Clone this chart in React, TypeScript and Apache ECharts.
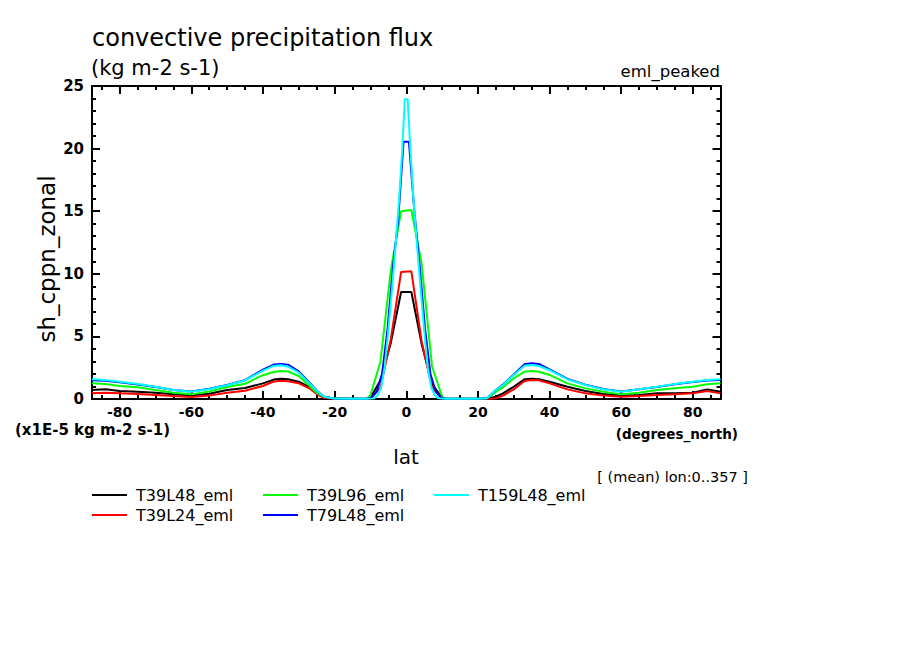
import React, { useEffect, useRef } from "react";
import * as echarts from "echarts";

// ---- latitude grids (degrees north) ----
const latSouth = [-87.72, -84, -80, -75, -70, -65, -60, -55, -50, -45, -40, -37, -35, -33, -30, -27, -25, -23, -20, -15, -11];
const latNorth = [11, 15, 20, 22.5, 25, 27, 30, 33, 35, 37, 40, 45, 50, 55, 60, 65, 70, 75, 80, 84, 87.72];
const latEqT39 = [-10, -7.2, -4.3, -1.43, 1.43, 4.3, 7.2, 10];
const latEqT79 = [-9.75, -8.25, -6.75, -5.25, -3.75, -2.25, -0.75, 0.75, 2.25, 3.75, 5.25, 6.75, 8.25, 9.75];
const latEqT159 = [-9, -8, -7, -6, -5, -4, -3, -2, -1.1, -0.4, 0.4, 1.1, 2, 3, 4, 5, 6, 7, 8, 9];

// ---- series values (x1E-5 kg m-2 s-1) ----
const t39l48 = [
  0.72, 0.77, 0.64, 0.58, 0.5, 0.37, 0.27, 0.42, 0.72, 0.88, 1.25, 1.55, 1.62, 1.58, 1.38, 0.95, 0.5, 0.15, 0.02, 0.01, 0.01,
  0.1, 1.5, 4.5, 8.55, 8.55, 4.4, 1.2, 0.1,
  0.01, 0.01, 0.01, 0.02, 0.18, 0.45, 0.98, 1.57, 1.62, 1.57, 1.38, 0.98, 0.64, 0.4, 0.27, 0.32, 0.45, 0.45, 0.5, 0.77, 0.58,
];
const t39l24 = [
  0.45, 0.5, 0.45, 0.4, 0.32, 0.24, 0.16, 0.27, 0.5, 0.66, 1.04, 1.4, 1.46, 1.42, 1.25, 0.85, 0.4, 0.1, 0.01, 0, 0,
  0.05, 0.9, 4.8, 10.15, 10.2, 4.6, 0.9, 0.05,
  0, 0, 0, 0.01, 0.05, 0.27, 0.77, 1.44, 1.52, 1.5, 1.25, 0.77, 0.45, 0.27, 0.18, 0.24, 0.32, 0.37, 0.45, 0.64, 0.45,
];
const t39l96 = [
  1.25, 1.2, 1.04, 0.93, 0.72, 0.5, 0.37, 0.6, 0.95, 1.22, 1.9, 2.15, 2.24, 2.2, 1.84, 1.04, 0.5, 0.2, 0.04, 0.02, 0.02,
  0.3, 3.0, 10.3, 15.0, 15.1, 10.8, 2.6, 0.2,
  0.02, 0.02, 0.02, 0.05, 0.56, 0.93, 1.65, 2.18, 2.24, 2.18, 1.92, 1.25, 0.85, 0.58, 0.37, 0.5, 0.72, 0.85, 0.98, 1.17, 1.25,
];
const t79l48 = [
  1.5, 1.45, 1.34, 1.16, 0.95, 0.72, 0.6, 0.82, 1.12, 1.5, 2.35, 2.75, 2.8, 2.74, 2.2, 1.3, 0.68, 0.18, 0.03, 0.02, 0.02,
  0.1, 0.6, 2.0, 5.5, 10.4, 14.3, 20.55, 20.55, 15.0, 10.6, 5.6, 2.0, 0.6, 0.1,
  0.02, 0.02, 0.02, 0.05, 0.72, 1.15, 1.95, 2.77, 2.85, 2.8, 2.37, 1.6, 1.15, 0.8, 0.6, 0.77, 0.96, 1.17, 1.35, 1.48, 1.52,
];
const t159l48 = [
  1.57, 1.52, 1.38, 1.2, 0.98, 0.72, 0.58, 0.8, 1.1, 1.48, 2.26, 2.64, 2.69, 2.58, 2.1, 1.25, 0.66, 0.18, 0.03, 0.02, 0.02,
  0.05, 0.3, 0.9, 2.6, 5.5, 8.7, 12.2, 15.9, 20.0, 23.95, 23.95, 20.2, 16.0, 12.3, 8.8, 5.5, 2.5, 0.9, 0.3, 0.05,
  0.02, 0.02, 0.02, 0.05, 0.72, 1.12, 1.92, 2.66, 2.72, 2.64, 2.3, 1.57, 1.12, 0.77, 0.58, 0.77, 0.98, 1.2, 1.38, 1.52, 1.57,
];

const seriesNames = ["T39L48_eml", "T39L24_eml", "T39L96_eml", "T79L48_eml", "T159L48_eml"];
const seriesColors = ["#000000", "#ff0000", "#00ff00", "#0000ff", "#00ffff"];

// ---- axis ticks ----
const xMin = -87.72;
const xMax = 87.72;
const xMajorTicks = [-80, -60, -40, -20, 0, 20, 40, 60, 80];
const xMinorTicks = [-85, -75, -70, -65, -55, -50, -45, -35, -30, -25, -15, -10, -5, 5, 10, 15, 25, 30, 35, 45, 50, 55, 65, 70, 75, 85];
const yMin = 0;
const yMax = 25;
const yInterval = 5;

const FONT = "DejaVu Sans";

function zip(lats: number[], vals: number[]) {
  return lats.map((la, i) => [la, vals[i]]);
}

export default function App() {
  const ref = useRef<HTMLDivElement>(null);

  useEffect(() => {
    if (!ref.current) return;
    const chart = echarts.init(ref.current, undefined, { renderer: "svg" });

    const latT39 = [...latSouth, ...latEqT39, ...latNorth];
    const latT79 = [...latSouth, ...latEqT79, ...latNorth];
    const latT159 = [...latSouth, ...latEqT159, ...latNorth];
    const dataSets = [
      zip(latT39, t39l48),
      zip(latT39, t39l24),
      zip(latT39, t39l96),
      zip(latT79, t79l48),
      zip(latT159, t159l48),
    ];

    const axisLine = { show: true, onZero: false, lineStyle: { color: "#000", width: 2 } };
    const noLine = { show: false, onZero: false };
    const majorTick = (vals: number[]) => ({
      show: true,
      inside: true,
      length: 8,
      customValues: vals,
      lineStyle: { color: "#000", width: 2 },
    });
    const minorTickAxis = (vals: number[]) => ({
      show: true,
      inside: true,
      length: 4,
      customValues: vals,
      lineStyle: { color: "#000", width: 2 },
    });

    const xBase = { type: "value", min: xMin, max: xMax, gridIndex: 0, splitLine: { show: false } };
    const yBase = {
      type: "value",
      min: yMin,
      max: yMax,
      interval: yInterval,
      gridIndex: 0,
      splitLine: { show: false },
      minorSplitLine: { show: false },
      minorTick: { show: true, splitNumber: 5, length: 4, lineStyle: { color: "#000", width: 2 } },
      axisTick: { show: true, inside: true, length: 8, lineStyle: { color: "#000", width: 2 } },
    };

    const legendCommon = {
      orient: "vertical",
      padding: 0,
      icon: "rect",
      itemWidth: 35,
      itemHeight: 2,
      itemGap: 4,
      selectedMode: false,
      textStyle: { fontFamily: FONT, fontSize: 16, color: "#000", lineHeight: 16, padding: [0, 0, 0, 4] },
    };

    const text = (t: string, x: number, y: number, size: number, opts: any = {}) => ({
      type: "text",
      x,
      y,
      rotation: opts.rotation || 0,
      style: {
        text: t,
        fontFamily: FONT,
        fontSize: size,
        fontWeight: opts.bold ? "bold" : "normal",
        fill: "#000",
        align: opts.align || "left",
        verticalAlign: "middle",
      },
    });

    chart.setOption({
      animation: false,
      backgroundColor: "#ffffff",
      grid: { left: 92, top: 86, width: 628.5, height: 313, containLabel: false },
      xAxis: [
        {
          ...xBase,
          position: "bottom",
          axisLine,
          axisTick: majorTick(xMajorTicks),
          axisLabel: {
            show: true,
            customValues: xMajorTicks,
            margin: 6,
            fontFamily: FONT,
            fontSize: 14,
            fontWeight: "bold",
            color: "#000",
          },
        },
        {
          ...xBase,
          position: "bottom",
          axisLine: noLine,
          axisTick: minorTickAxis(xMinorTicks),
          axisLabel: { show: false },
        },
        {
          ...xBase,
          position: "top",
          axisLine,
          axisTick: majorTick(xMajorTicks),
          axisLabel: { show: false },
        },
        {
          ...xBase,
          position: "top",
          axisLine: noLine,
          axisTick: minorTickAxis(xMinorTicks),
          axisLabel: { show: false },
        },
      ],
      yAxis: [
        {
          ...yBase,
          position: "left",
          axisLine,
          axisLabel: { show: true, margin: 8, fontFamily: FONT, fontSize: 15, fontWeight: "bold", color: "#000" },
        },
        {
          ...yBase,
          position: "right",
          axisLine,
          axisLabel: { show: false },
        },
      ],
      legend: [
        { ...legendCommon, left: 92, top: 487, data: [seriesNames[0], seriesNames[1]] },
        { ...legendCommon, left: 263, top: 487, data: [seriesNames[2], seriesNames[3]] },
        { ...legendCommon, left: 434, top: 487, data: [seriesNames[4]] },
      ],
      series: seriesNames.map((name, i) => ({
        name,
        type: "line",
        xAxisIndex: 0,
        yAxisIndex: 0,
        data: dataSets[i],
        showSymbol: false,
        symbol: "none",
        clip: true,
        color: seriesColors[i],
        lineStyle: { color: seriesColors[i], width: 2 },
      })),
      graphic: [
        text("convective precipitation flux", 92, 38, 24),
        text("(kg m-2 s-1)", 91, 68, 21),
        text("eml_peaked", 720, 71, 16.5, { align: "right" }),
        text("sh_cppn_zonal", 47, 259, 23, { rotation: Math.PI / 2, align: "center" }),
        text("(x1E-5 kg m-2 s-1)", 15, 430, 15, { bold: true }),
        text("(degrees_north)", 738, 434, 13.5, { bold: true, align: "right" }),
        text("lat", 406, 457, 20, { align: "center" }),
        text("[ (mean) lon:0..357 ]", 748, 477, 14.5, { align: "right" }),
      ],
    });

    return () => chart.dispose();
  }, []);

  return (
    <div
      ref={ref}
      style={{ position: "fixed", left: 0, top: 0, width: 904, height: 654, background: "#fff" }}
    />
  );
}
